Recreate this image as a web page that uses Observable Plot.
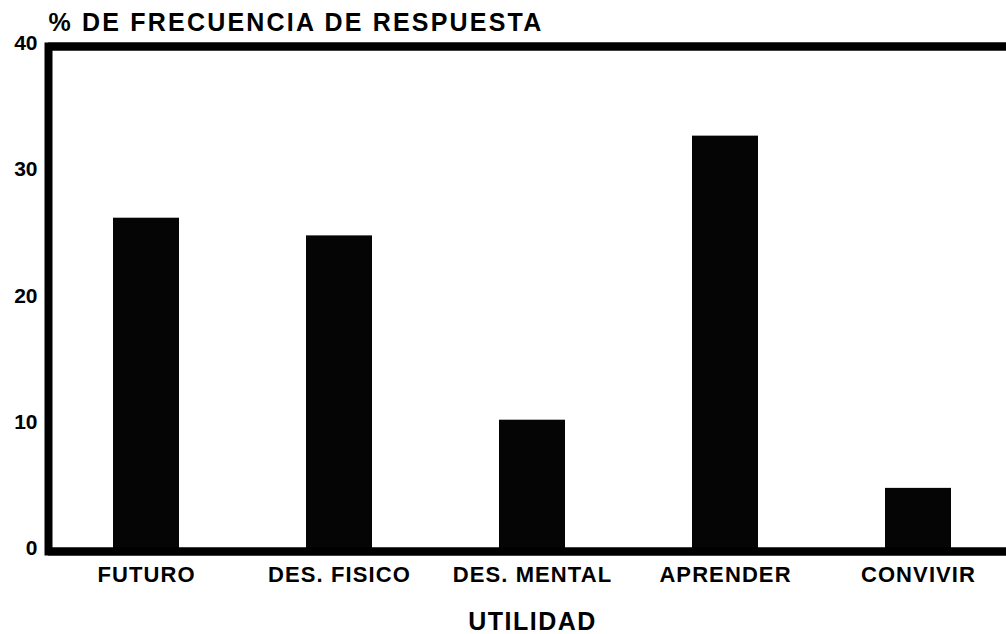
<!DOCTYPE html>
<html>
<head>
<meta charset="utf-8">
<script src="https://cdn.jsdelivr.net/npm/d3@7"></script>
<script src="https://cdn.jsdelivr.net/npm/@observablehq/plot@0.6"></script>
<style>
  html, body { margin: 0; padding: 0; background: #fff; overflow: hidden; }
  svg { display: block; }
</style>
</head>
<body>
<div id="chart"></div>
<script>
const categories = ["FUTURO", "DES. FISICO", "DES. MENTAL", "APRENDER", "CONVIVIR"];
const values = [26.4, 25.0, 10.4, 32.9, 5.0];
const yTicks = [0, 10, 20, 30, 40];
const title = "% DE FRECUENCIA DE RESPUESTA";
const xTitle = "UTILIDAD";

const data = categories.map((c, i) => ({ category: c, value: values[i] }));
const font = "'Liberation Sans', Arial, Helvetica, sans-serif";

const chart = Plot.plot({
  width: 1006,
  height: 634,
  marginLeft: 48,
  marginRight: -10,
  marginTop: 46,
  marginBottom: 83,
  style: { fontFamily: font, background: "#fff", color: "#000", overflow: "visible" },
  x: { domain: categories, paddingInner: 0.66, paddingOuter: 0.33, align: 0.5 },
  y: { domain: [0, 40] },
  marks: [
    Plot.barY(data, { x: "category", y: "value", fill: "#050505" }),
    Plot.ruleY([0, 40], { stroke: "#000", strokeWidth: 8 }),
    Plot.frame({ stroke: "#000", strokeWidth: 8, fill: "none" }),
    Plot.axisY({ ticks: yTicks, tickSize: 0, tickPadding: 11, fontSize: 21, fontWeight: "bold", label: null, dy: -3 }),
    Plot.axisX({ tickSize: 0, tickPadding: 15, fontSize: 22, fontWeight: "bold", label: null }),
    Plot.text([title], { frameAnchor: "top-left", dy: -24, dx: 0, textAnchor: "start", lineAnchor: "middle", fontSize: 25, fontWeight: "bold" }),
    Plot.text([xTitle], { frameAnchor: "bottom", dy: 70, lineAnchor: "middle", fontSize: 25, fontWeight: "bold" })
  ]
});
const sel = d3.select(chart);
sel.selectAll("text").filter(function () { return this.textContent === title; }).attr("letter-spacing", 2.2);
sel.selectAll("text").filter(function () { return this.textContent === xTitle; }).attr("letter-spacing", 1.5);
sel.selectAll('g[aria-label="x-axis tick label"]').attr("letter-spacing", 1.1);
document.getElementById("chart").appendChild(chart);
</script>
</body>
</html>
